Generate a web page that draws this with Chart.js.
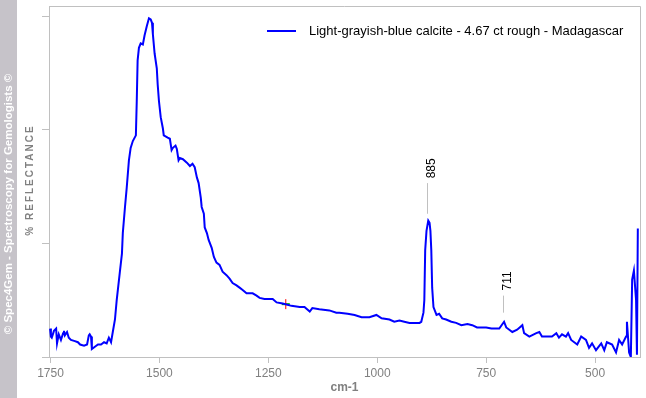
<!DOCTYPE html>
<html>
<head>
<meta charset="utf-8">
<script src="https://cdn.jsdelivr.net/npm/chart.js@4"></script>
<style>
  html, body { margin: 0; padding: 0; background: #fff; }
  #wrap { width: 646px; height: 398px; position: relative; }
</style>
</head>
<body>
<div id="wrap"><canvas id="spectrum"></canvas></div>
<script>
// spectrum (cm-1, reflectance in arbitrary units)
const wavenumbers = [
  1751,1749,1747,1742,1737,1735,1731,1726,1721,1719,
  1717,1712,1708,1703,1694,1687,1682,1673,1666,1662,
  1660,1657,1655,1648,1641,1634,1627,1621,1616,1611,
  1607,1602,1598,1591,1586,1584,1579,1575,1570,1566,
  1561,1554,1552,1550,1547,1543,1538,1534,1529,1524,
  1520,1517,1515,1511,1506,1504,1501,1497,1492,1490,
  1481,1476,1472,1469,1463,1460,1456,1453,1446,1437,
  1430,1424,1419,1414,1410,1405,1403,1398,1396,1391,
  1387,1380,1375,1369,1362,1355,1346,1339,1332,1323,
  1316,1309,1300,1286,1277,1270,1259,1240,1231,1217,
  1197,1178,1167,1155,1149,1133,1110,1094,1087,1068,
  1052,1036,1018,1002,990,972,961,949,938,926,
  915,903,899,894,892,890,887,883,880,878,
  876,874,871,864,858,851,842,830,819,807,
  793,782,771,750,738,720,709,704,697,690,
  679,667,663,651,635,628,622,599,589,583,
  576,567,562,555,541,532,521,514,507,498,
  486,479,473,461,452,445,438,429,427,422,
  418,415,411,406,404,402
];
const reflectance = [
  0.25,0.18,0.17,0.23,0.25,0.12,0.20,0.15,0.21,0.23,
  0.19,0.22,0.17,0.15,0.14,0.13,0.11,0.10,0.11,0.19,
  0.20,0.18,0.07,0.09,0.11,0.11,0.13,0.12,0.17,0.13,
  0.22,0.33,0.50,0.74,0.91,1.09,1.32,1.49,1.73,1.84,
  1.90,1.95,2.25,2.61,2.72,2.76,2.75,2.83,2.91,2.98,
  2.97,2.94,2.84,2.67,2.54,2.40,2.25,2.11,2.01,1.95,
  1.93,1.92,1.82,1.84,1.86,1.83,1.73,1.75,1.74,1.71,
  1.68,1.70,1.67,1.58,1.53,1.40,1.32,1.26,1.14,1.09,
  1.03,0.96,0.88,0.83,0.81,0.75,0.72,0.69,0.65,0.63,
  0.61,0.59,0.56,0.56,0.54,0.52,0.51,0.51,0.48,0.47,
  0.45,0.44,0.44,0.40,0.43,0.42,0.41,0.39,0.39,0.38,
  0.37,0.35,0.35,0.37,0.34,0.33,0.31,0.32,0.31,0.30,
  0.30,0.30,0.31,0.39,0.50,0.94,1.11,1.20,1.18,1.11,
  0.94,0.61,0.44,0.37,0.38,0.34,0.33,0.31,0.30,0.28,
  0.29,0.28,0.26,0.26,0.25,0.25,0.31,0.26,0.24,0.22,
  0.24,0.28,0.21,0.18,0.21,0.22,0.18,0.18,0.21,0.17,
  0.20,0.18,0.21,0.15,0.11,0.18,0.15,0.08,0.12,0.06,
  0.12,0.06,0.13,0.11,0.04,0.15,0.11,0.18,0.31,0.04,
  0.00,0.68,0.76,0.50,0.02,1.13
];

const xTicks = [1750, 1500, 1250, 1000, 750, 500];
const yTicks = [0, 1, 2, 3];

// marked peaks: wavenumber, leader line bottom/top and label centre (data units)
const peakLabels   = ["885", "711"];
const peakWn       = [885, 711];
const peakLineLow  = [1.26, 0.39];
const peakLineHigh = [1.53, 0.54];
const peakTextAt   = [1.66, 0.67];

// cursor marker on the curve
const markerWn  = [1210];
const markerVal = [0.465];

const seriesName = "Light-grayish-blue calcite - 4.67 ct rough - Madagascar";
const stripText  = "\u00a9 Spec4Gem - Spectroscopy for Gemologists \u00a9";
const FONT = '"Liberation Sans", Arial, sans-serif';

const points = wavenumbers.map((w, i) => ({ x: w, y: reflectance[i] }));
const marker = markerWn.map((w, i) => ({ x: w, y: markerVal[i] }));

// strip, y title, frame, legend and peak labels
const decor = {
  id: "decor",
  beforeDraw(chart) {
    const ctx = chart.ctx;
    ctx.save();
    ctx.fillStyle = "#c6c3c9";
    ctx.fillRect(0, 0, 17, chart.height);

    ctx.translate(9, 204);
    ctx.rotate(-Math.PI / 2);
    ctx.fillStyle = "#ffffff";
    ctx.font = "bold 11.5px " + FONT;
    ctx.textAlign = "center";
    ctx.textBaseline = "middle";
    ctx.fillText(stripText, 0, 0);
    ctx.restore();

    ctx.save();
    ctx.translate(30, 180);
    ctx.rotate(-Math.PI / 2);
    ctx.fillStyle = "#808080";
    ctx.font = "bold 10px " + FONT;
    ctx.letterSpacing = "2px";
    ctx.textAlign = "center";
    ctx.textBaseline = "middle";
    ctx.fillText("% REFLECTANCE", 0, 0);
    ctx.restore();
  },
  afterDraw(chart) {
    const ctx = chart.ctx;
    const ca = chart.chartArea;
    const xs = chart.scales.x, ys = chart.scales.y;

    ctx.save();
    ctx.strokeStyle = "#c0c0c0";
    ctx.lineWidth = 1;
    ctx.beginPath();
    ctx.moveTo(ca.left, Math.round(ca.top) + 0.5);
    ctx.lineTo(Math.round(ca.right) + 0.5, Math.round(ca.top) + 0.5);
    ctx.lineTo(Math.round(ca.right) + 0.5, ca.bottom);
    ctx.stroke();

    // legend
    ctx.strokeStyle = "#0000ff";
    ctx.lineWidth = 2;
    ctx.beginPath();
    ctx.moveTo(267, 31);
    ctx.lineTo(296, 31);
    ctx.stroke();
    ctx.fillStyle = "#000000";
    ctx.font = "13px " + FONT;
    ctx.textAlign = "left";
    ctx.textBaseline = "middle";
    ctx.fillText(seriesName, 309, 31);

    // peak labels
    peakWn.forEach((w, i) => {
      const px = Math.round(xs.getPixelForValue(w)) + 0.5;
      ctx.strokeStyle = "#c0c0c0";
      ctx.lineWidth = 1;
      ctx.beginPath();
      ctx.moveTo(px, ys.getPixelForValue(peakLineLow[i]));
      ctx.lineTo(px, ys.getPixelForValue(peakLineHigh[i]));
      ctx.stroke();
      ctx.save();
      ctx.translate(px + 4, ys.getPixelForValue(peakTextAt[i]));
      ctx.rotate(-Math.PI / 2);
      ctx.fillStyle = "#000000";
      ctx.font = "12px " + FONT;
      ctx.textAlign = "center";
      ctx.textBaseline = "middle";
      ctx.fillText(peakLabels[i], 0, 0);
      ctx.restore();
    });
    ctx.restore();
  }
};

new Chart(document.getElementById("spectrum"), {
  type: "line",
  data: {
    datasets: [
      {
        label: seriesName,
        data: points,
        borderColor: "#0000ff",
        borderWidth: 2,
        pointRadius: 0,
        tension: 0,
        fill: false
      },
      {
        type: "scatter",
        data: marker,
        pointStyle: "line",
        rotation: 90,
        radius: 5,
        borderColor: "#ff0000",
        borderWidth: 1
      },
      {
        type: "scatter",
        data: marker,
        pointStyle: "line",
        radius: 4,
        borderColor: "#00b000",
        borderWidth: 2
      }
    ]
  },
  options: {
    responsive: true,
    maintainAspectRatio: false,
    animation: false,
    layout: { padding: { left: 0, top: 5, right: 5, bottom: 0 } },
    plugins: {
      legend: { display: false },
      tooltip: { enabled: false }
    },
    scales: {
      x: {
        type: "linear",
        reverse: true,
        min: 397,
        max: 1753.4,
        afterBuildTicks: s => { s.ticks = xTicks.map(v => ({ value: v })); },
        afterFit: s => { s.height = 41; },
        border: { color: "#c0c0c0" },
        grid: { drawOnChartArea: false, tickLength: 6, color: "#c0c0c0" },
        ticks: {
          color: "#808080",
          font: { family: FONT, size: 12 },
          maxRotation: 0,
          padding: 3,
          callback: v => String(v)
        },
        title: {
          display: true,
          text: "cm-1",
          color: "#808080",
          font: { family: FONT, size: 12, weight: "bold" },
          padding: { top: 3, bottom: 3 }
        }
      },
      y: {
        min: 0,
        max: 3.088,
        afterBuildTicks: s => { s.ticks = yTicks.map(v => ({ value: v })); },
        afterFit: s => { s.width = 49; },
        border: { color: "#c0c0c0" },
        grid: { drawOnChartArea: false, tickLength: 7, color: "#c0c0c0" },
        ticks: { display: false }
      }
    }
  },
  plugins: [decor]
});
</script>
</body>
</html>
